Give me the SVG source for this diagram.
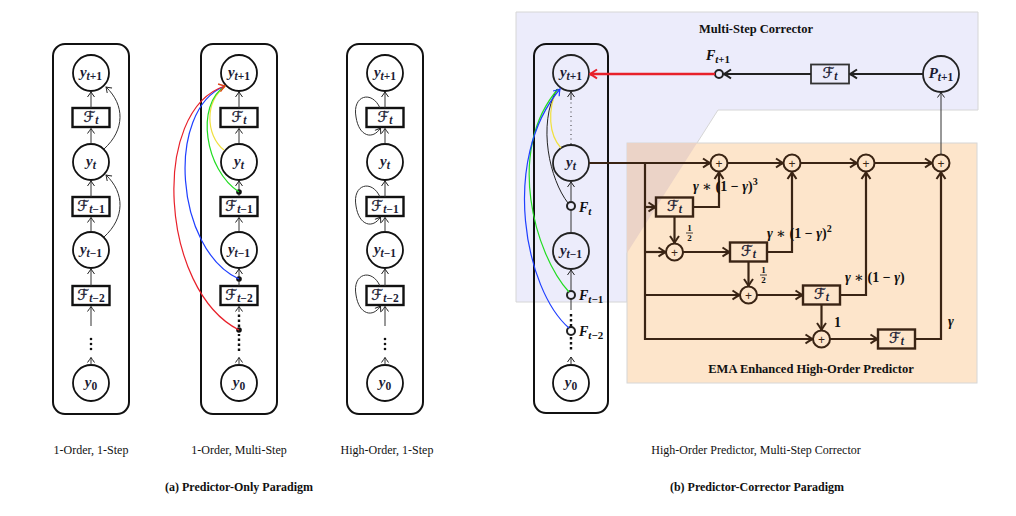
<svg xmlns="http://www.w3.org/2000/svg" width="1016" height="516" viewBox="0 0 1016 516">
<defs>
<style>
.col{fill:none;stroke:#111;stroke-width:2}
.bx{fill:#fff;stroke:#111;stroke-width:2.4}
.nd{fill:#fff;stroke:#111;stroke-width:1.8}
.ndb{fill:none;stroke:#222;stroke-width:1.8}
.sc{fill:none;stroke:#222;stroke-width:2}
.ar{fill:none;stroke:#333;stroke-width:1;marker-end:url(#a)}
.ln{fill:none;stroke:#333;stroke-width:1}
.ema{fill:none;stroke:#3a2414;stroke-width:2.2;marker-end:url(#ab)}
.pl{fill:none;stroke:#3a2414;stroke-width:2}
.ebx{fill:none;stroke:#3a2414;stroke-width:2.4}
.m{font-family:"Liberation Serif",serif;font-style:italic;font-weight:bold;font-size:15px;fill:#1b1b33;text-anchor:middle}
.s{font-size:11.5px}
.up{font-style:normal}
.cf{font-family:"DejaVu Sans","Noto Sans",sans-serif;font-style:normal;font-weight:normal;font-size:15px;stroke:#1b1b33;stroke-width:0.35}
.lb{font-family:"Liberation Serif","DejaVu Serif",serif;font-weight:bold;font-size:14px;fill:#111}
.fr{font-family:"Liberation Serif",serif;font-weight:bold;font-size:9px;fill:#111;text-anchor:middle}
.pt{font-family:"Liberation Sans",sans-serif;font-size:12px;fill:#3a2414;text-anchor:middle}
.cap{font-family:"Liberation Serif",serif;font-size:12px;fill:#111;text-anchor:middle}
.capb{font-family:"Liberation Serif",serif;font-size:12px;font-weight:bold;fill:#111;text-anchor:middle}
.ttl{font-family:"Liberation Serif",serif;font-size:12.5px;font-weight:bold;fill:#111;text-anchor:middle}
</style>
<marker id="a" viewBox="-7 -5 8 10" markerWidth="8" markerHeight="10" refX="0" refY="0" orient="auto" markerUnits="userSpaceOnUse"><path d="M-5,-3.5 Q-1.5,-1 0,0 Q-1.5,1 -5,3.5" fill="none" stroke="#222" stroke-width="1"/></marker>
<marker id="ab" viewBox="-9 -6 10 12" markerWidth="10" markerHeight="12" refX="0" refY="0" orient="auto" markerUnits="userSpaceOnUse"><path d="M-7,-4.5 Q-2,-1 0,0 Q-2,1 -7,4.5" fill="none" stroke="#3a2414" stroke-width="2"/></marker>
<marker id="ak" viewBox="-9 -6 10 12" markerWidth="10" markerHeight="12" refX="0" refY="0" orient="auto" markerUnits="userSpaceOnUse"><path d="M-7,-4.5 Q-2,-1 0,0 Q-2,1 -7,4.5" fill="none" stroke="#222" stroke-width="2"/></marker>
<marker id="ar" viewBox="-9 -6 10 12" markerWidth="10" markerHeight="12" refX="0" refY="0" orient="auto" markerUnits="userSpaceOnUse"><path d="M-7,-4.5 Q-2,-1 0,0 Q-2,1 -7,4.5" fill="none" stroke="#e8202a" stroke-width="2"/></marker>
<marker id="arr" viewBox="-8 -6 9 12" markerWidth="9" markerHeight="12" refX="0" refY="0" orient="auto" markerUnits="userSpaceOnUse"><path d="M-6,-4 Q-2,-1 0,0 Q-2,1 -6,4" fill="none" stroke="#d9461a" stroke-width="1.4"/></marker>
<marker id="abl" viewBox="-8 -6 9 12" markerWidth="9" markerHeight="12" refX="0" refY="0" orient="auto" markerUnits="userSpaceOnUse"><path d="M-6,-4 Q-2,-1 0,0 Q-2,1 -6,4" fill="none" stroke="#1f3fff" stroke-width="1.2"/></marker>
</defs>

<!-- backgrounds of panel b -->
<polygon points="516,12 978,12 978,110 718,110 627,253 627,302 516,302" fill="#ececfb" stroke="#d6d6d6" stroke-width="1"/>
<rect x="627" y="143" width="350" height="240" fill="#fde5cb" stroke="#d6d6d6" stroke-width="1"/>
<polygon points="627,143 697,143 627,253" fill="#ebd3c7"/>
<text class="ttl" x="756" y="33">Multi-Step Corrector</text>
<text class="ttl" x="811" y="373">EMA Enhanced High-Order Predictor</text>

<!-- ===== Panel (a) column 1 ===== -->
<g id="col1"><rect class="col" x="53" y="44" width="76" height="370" rx="12"/></g>
<g id="c1_yt1"><circle class="nd" cx="91" cy="73" r="18"/><text class="m" x="91" y="77">y<tspan class="s" dy="3">t<tspan class="up">+1</tspan></tspan></text></g>
<g id="c1_Ft"><rect class="bx" x="72.5" y="108" width="37" height="19"/><text class="m" x="91" y="122"><tspan class="cf">ℱ</tspan><tspan class="s" dy="2">t</tspan></text></g>
<g id="c1_yt"><circle class="nd" cx="91" cy="162" r="18"/><text class="m" x="91" y="166">y<tspan class="s" dy="3">t</tspan></text></g>
<g id="c1_Ft1"><rect class="bx" x="72.5" y="197" width="37" height="19"/><text class="m" x="91" y="211"><tspan class="cf">ℱ</tspan><tspan class="s" dy="2">t<tspan class="up">−1</tspan></tspan></text></g>
<g id="c1_yt_1"><circle class="nd" cx="91" cy="250" r="18"/><text class="m" x="91" y="254">y<tspan class="s" dy="3">t<tspan class="up">−1</tspan></tspan></text></g>
<g id="c1_Ft2"><rect class="bx" x="72.5" y="286" width="37" height="19"/><text class="m" x="91" y="300"><tspan class="cf">ℱ</tspan><tspan class="s" dy="2">t<tspan class="up">−2</tspan></tspan></text></g>
<g id="c1_dots"><circle cx="91" cy="339" r="1.3" fill="#111"/><circle cx="91" cy="344" r="1.3" fill="#111"/><circle cx="91" cy="349" r="1.3" fill="#111"/></g>
<g id="c1_y0"><circle class="nd" cx="91" cy="383" r="18"/><text class="m" x="91" y="387">y<tspan class="s up" dy="3">0</tspan></text></g>

<!-- ===== Panel (a) column 2 ===== -->
<g id="col2"><rect class="col" x="201" y="44" width="76" height="370" rx="12"/></g>
<g id="c2_yt1"><circle class="nd" cx="239" cy="73" r="18"/><text class="m" x="239" y="77">y<tspan class="s" dy="3">t<tspan class="up">+1</tspan></tspan></text></g>
<g id="c2_Ft"><rect class="bx" x="220.5" y="108" width="37" height="19"/><text class="m" x="239" y="122"><tspan class="cf">ℱ</tspan><tspan class="s" dy="2">t</tspan></text></g>
<g id="c2_yt"><circle class="nd" cx="239" cy="162" r="18"/><text class="m" x="239" y="166">y<tspan class="s" dy="3">t</tspan></text></g>
<g id="c2_Ft1"><rect class="bx" x="220.5" y="197" width="37" height="19"/><text class="m" x="239" y="211"><tspan class="cf">ℱ</tspan><tspan class="s" dy="2">t<tspan class="up">−1</tspan></tspan></text></g>
<g id="c2_yt_1"><circle class="nd" cx="239" cy="250" r="18"/><text class="m" x="239" y="254">y<tspan class="s" dy="3">t<tspan class="up">−1</tspan></tspan></text></g>
<g id="c2_Ft2"><rect class="bx" x="220.5" y="286" width="37" height="19"/><text class="m" x="239" y="300"><tspan class="cf">ℱ</tspan><tspan class="s" dy="2">t<tspan class="up">−2</tspan></tspan></text></g>
<g id="c2_y0"><circle class="nd" cx="239" cy="383" r="18"/><text class="m" x="239" y="387">y<tspan class="s up" dy="3">0</tspan></text></g>

<!-- ===== Panel (a) column 3 ===== -->
<g id="col3"><rect class="col" x="347" y="44" width="76" height="370" rx="12"/></g>
<g id="c3_yt1"><circle class="nd" cx="385" cy="73" r="18"/><text class="m" x="385" y="77">y<tspan class="s" dy="3">t<tspan class="up">+1</tspan></tspan></text></g>
<g id="c3_Ft"><rect class="bx" x="366.5" y="108" width="37" height="19"/><text class="m" x="385" y="122"><tspan class="cf">ℱ</tspan><tspan class="s" dy="2">t</tspan></text></g>
<g id="c3_yt"><circle class="nd" cx="385" cy="162" r="18"/><text class="m" x="385" y="166">y<tspan class="s" dy="3">t</tspan></text></g>
<g id="c3_Ft1"><rect class="bx" x="366.5" y="197" width="37" height="19"/><text class="m" x="385" y="211"><tspan class="cf">ℱ</tspan><tspan class="s" dy="2">t<tspan class="up">−1</tspan></tspan></text></g>
<g id="c3_yt_1"><circle class="nd" cx="385" cy="250" r="18"/><text class="m" x="385" y="254">y<tspan class="s" dy="3">t<tspan class="up">−1</tspan></tspan></text></g>
<g id="c3_Ft2"><rect class="bx" x="366.5" y="286" width="37" height="19"/><text class="m" x="385" y="300"><tspan class="cf">ℱ</tspan><tspan class="s" dy="2">t<tspan class="up">−2</tspan></tspan></text></g>
<g id="c3_dots"><circle cx="385" cy="339" r="1.3" fill="#111"/><circle cx="385" cy="344" r="1.3" fill="#111"/><circle cx="385" cy="349" r="1.3" fill="#111"/></g>
<g id="c3_y0"><circle class="nd" cx="385" cy="383" r="18"/><text class="m" x="385" y="387">y<tspan class="s up" dy="3">0</tspan></text></g>

<!-- ===== Panel (b) column ===== -->
<g id="colb"><rect class="col" x="534" y="44" width="74" height="369" rx="12"/></g>
<g id="b_yt1"><circle class="ndb" cx="571" cy="73" r="18"/><text class="m" x="571" y="77">y<tspan class="s" dy="3">t<tspan class="up">+1</tspan></tspan></text></g>
<g id="b_yt"><circle class="ndb" cx="571" cy="163" r="18"/><text class="m" x="571" y="167">y<tspan class="s" dy="3">t</tspan></text></g>
<g id="b_Ft"><circle class="sc" cx="571" cy="206" r="4"/><text class="lb" x="579" y="212" font-style="italic" font-size="15">F<tspan font-size="11" dy="3">t</tspan></text></g>
<g id="b_yt_1"><circle class="ndb" cx="571" cy="251" r="18"/><text class="m" x="571" y="255">y<tspan class="s" dy="3">t<tspan class="up">−1</tspan></tspan></text></g>
<g id="b_Ft1"><circle class="sc" cx="571" cy="295" r="4"/><text class="lb" x="579" y="300" font-style="italic" font-size="15">F<tspan font-size="11" dy="3">t<tspan font-style="normal">−1</tspan></tspan></text></g>
<g id="b_Ft2"><circle class="sc" cx="571" cy="331" r="4"/><text class="lb" x="579" y="336" font-style="italic" font-size="15">F<tspan font-size="11" dy="3">t<tspan font-style="normal">−2</tspan></tspan></text></g>
<g id="b_y0"><circle class="nd" cx="571" cy="383" r="18"/><text class="m" x="571" y="387">y<tspan class="s up" dy="3">0</tspan></text></g>

<!-- corrector nodes -->
<g id="b_Fp1"><circle class="sc" cx="719" cy="74" r="4"/><text class="lb" x="718" y="60" font-style="italic" font-size="15" text-anchor="middle">F<tspan font-size="11" dy="3">t<tspan font-style="normal">+1</tspan></tspan></text></g>
<g id="b_cF"><rect x="811" y="64.5" width="38" height="19" fill="#ececfb" stroke="#333" stroke-width="1.8"/><text class="m" x="830" y="78"><tspan class="cf">ℱ</tspan><tspan class="s" dy="2">t</tspan></text></g>
<g id="b_P"><circle class="ndb" cx="941" cy="74" r="18"/><text class="m" x="941" y="78">P<tspan class="s" dy="3">t<tspan class="up">+1</tspan></tspan></text></g>

<!-- EMA nodes -->
<g id="p1"><circle class="pl" cx="719" cy="163" r="8.5"/><text class="pt" x="719" y="167.5">+</text></g>
<g id="p2"><circle class="pl" cx="792" cy="163" r="8.5"/><text class="pt" x="792" y="167.5">+</text></g>
<g id="p3"><circle class="pl" cx="866" cy="163" r="8.5"/><text class="pt" x="866" y="167.5">+</text></g>
<g id="p4"><circle class="pl" cx="941" cy="163" r="8.5"/><text class="pt" x="941" y="167.5">+</text></g>
<g id="p5"><circle class="pl" cx="674.5" cy="252" r="8.5"/><text class="pt" x="674.5" y="256.5">+</text></g>
<g id="p6"><circle class="pl" cx="748.5" cy="295" r="8.5"/><text class="pt" x="748.5" y="299.5">+</text></g>
<g id="p7"><circle class="pl" cx="821.5" cy="339" r="8.5"/><text class="pt" x="821.5" y="343.5">+</text></g>
<g id="e1"><rect class="ebx" x="656" y="197.5" width="37" height="19"/><text class="m" x="674.5" y="211"><tspan class="cf">ℱ</tspan><tspan class="s" dy="2">t</tspan></text></g>
<g id="e2"><rect class="ebx" x="730" y="242.5" width="37" height="19"/><text class="m" x="748.5" y="256"><tspan class="cf">ℱ</tspan><tspan class="s" dy="2">t</tspan></text></g>
<g id="e3"><rect class="ebx" x="803" y="285.5" width="37" height="19"/><text class="m" x="821.5" y="299"><tspan class="cf">ℱ</tspan><tspan class="s" dy="2">t</tspan></text></g>
<g id="e4"><rect class="ebx" x="878" y="329.5" width="37" height="19"/><text class="m" x="896.5" y="343"><tspan class="cf">ℱ</tspan><tspan class="s" dy="2">t</tspan></text></g>

<!-- ===== connectors ===== -->
<g id="connectors">
<path class="ar" d="M91,365 L91,357.5"/>
<path class="ar" d="M91,326 L91,306.5"/>
<path class="ar" d="M91,286 L91,269"/>
<path class="ar" d="M91,232 L91,217.5"/>
<path class="ar" d="M91,197 L91,181"/>
<path class="ar" d="M91,144 L91,128.5"/>
<path class="ar" d="M91,108 L91,92"/>
<path class="ar" d="M104,149 C125,130 125,105 106,87"/>
<path class="ar" d="M104,237 C125,218 125,193 106,175"/>
<path class="ar" d="M239,365 L239,357.5"/>
<path d="M239,351 L239,334" stroke="#111" stroke-width="2.4" stroke-dasharray="2.4 2.6" fill="none"/>
<path d="M239,327 L239,312" stroke="#111" stroke-width="2.4" stroke-dasharray="2.4 2.6" fill="none"/>
<path class="ar" d="M239,312 L239,306.5"/>
<path class="ar" d="M239,286 L239,269"/>
<path class="ar" d="M239,232 L239,217.5"/>
<path class="ar" d="M239,197 L239,181"/>
<path class="ar" d="M239,144 L239,128.5"/>
<path class="ar" d="M239,108 L239,92"/>
<circle cx="239" cy="330" r="2.8" fill="#111"/>
<circle cx="239" cy="279" r="2.8" fill="#111"/>
<circle cx="239" cy="192" r="2.8" fill="#111"/>
<path d="M224,150 C205,135 205,100 225,87" fill="none" stroke="#f0e040" stroke-width="1.2"/>
<path d="M239,192 C205,170 195,105 225,86" fill="none" stroke="#22dd22" stroke-width="1.2"/>
<path d="M239,279 C175,250 165,110 225,86" fill="none" stroke="#1f3fff" stroke-width="1.2"/>
<path d="M239,330 C160,290 150,110 225,86" fill="none" stroke="#e8202a" stroke-width="1.2" marker-end="url(#arr)"/>
<path class="ar" d="M385,365 L385,357.5"/>
<path class="ar" d="M385,326 L385,306.5"/>
<path class="ar" d="M385,286 L385,269"/>
<path class="ar" d="M385,232 L385,217.5"/>
<path class="ar" d="M385,197 L385,181"/>
<path class="ar" d="M385,144 L385,128.5"/>
<path class="ar" d="M385,108 L385,92"/>
<path class="ar" d="M380,108 C372,90 352,95 356,117 C359,137 373,140 380.5,128"/>
<path class="ar" d="M380,197 C372,179 352,184 356,206 C359,226 373,229 380.5,217"/>
<path class="ar" d="M380,286 C372,268 352,273 356,295 C359,315 373,318 380.5,306"/>
<path d="M571,144 L571,100" fill="none" stroke="#333" stroke-width="1" stroke-dasharray="1 3.5"/>
<path class="ar" d="M571,100 L571,92"/>
<path class="ar" d="M571,202 L571,182"/>
<path class="ln" d="M571,233 L571,210"/>
<path class="ar" d="M571,291 L571,270"/>
<path class="ln" d="M571,299 L571,310"/>
<path d="M571,314 L571,327" stroke="#111" stroke-width="2.4" stroke-dasharray="2.4 2.6" fill="none"/>
<path d="M571,337 L571,351" stroke="#111" stroke-width="2.4" stroke-dasharray="2.4 2.6" fill="none"/>
<path class="ar" d="M571,365 L571,357"/>
<path d="M561,148 C549,135 547,110 557,90" fill="none" stroke="#f0e040" stroke-width="1.2"/>
<path d="M568,203 C550,180 537,125 557,89" fill="none" stroke="#222" stroke-width="1"/>
<path d="M569,292 C535,255 505,150 558,89" fill="none" stroke="#22dd22" stroke-width="1.2"/>
<path d="M569,328 C525,290 500,160 560,89" fill="none" stroke="#1f3fff" stroke-width="1.2" marker-end="url(#abl)"/>
<path d="M715,74 L590,74" fill="none" stroke="#e8202a" stroke-width="2.4" marker-end="url(#ar)"/>
<path d="M811,74 L724,74" fill="none" stroke="#222" stroke-width="2" marker-end="url(#ak)"/>
<path d="M923,74 L850,74" fill="none" stroke="#222" stroke-width="2" marker-end="url(#ak)"/>
<path class="ar" d="M941,154.5 L941,92.5" stroke="#666"/>
<path class="ema" d="M589,163 L710,163"/>
<path class="ema" d="M645,163 L645,339 L812.5,339"/>
<path class="ema" d="M645,207 L655.5,207"/>
<path class="ema" d="M645,252 L665.5,252"/>
<path class="ema" d="M645,295 L739.5,295"/>
<path class="ema" d="M727.5,163 L783,163"/>
<path class="ema" d="M800.5,163 L857,163"/>
<path class="ema" d="M874.5,163 L932,163"/>
<path class="ema" d="M693,207 L719,207 L719,172"/>
<path class="ema" d="M674.5,216.5 L674.5,243"/>
<path class="ema" d="M683,252 L729.5,252"/>
<path class="ema" d="M767,252 L792,252 L792,172"/>
<path class="ema" d="M748.5,261.5 L748.5,286"/>
<path class="ema" d="M757,295 L802.5,295"/>
<path class="ema" d="M840,295 L866,295 L866,172"/>
<path class="ema" d="M821.5,304.5 L821.5,330"/>
<path class="ema" d="M830,339 L877.5,339"/>
<path class="ema" d="M915,339 L941,339 L941,172"/>
</g>

<!-- EMA labels -->
<text class="lb" x="693" y="191" font-size="14.5"><tspan font-style="italic">γ</tspan> ∗ (1 − <tspan font-style="italic">γ</tspan>)<tspan font-size="10" dy="-6">3</tspan></text>
<text class="lb" x="767" y="238" font-size="14.5"><tspan font-style="italic">γ</tspan> ∗ (1 − <tspan font-style="italic">γ</tspan>)<tspan font-size="10" dy="-6">2</tspan></text>
<text class="lb" x="845" y="282" font-size="14.5"><tspan font-style="italic">γ</tspan> ∗ (1 − <tspan font-style="italic">γ</tspan>)</text>
<text class="lb" x="834" y="327">1</text>
<text class="lb" x="948" y="326" font-style="italic">γ</text>
<text class="fr" x="689.5" y="231">1</text><path d="M686,233 L693,233" stroke="#111" stroke-width="0.8"/><text class="fr" x="689.5" y="240.5">2</text>
<text class="fr" x="763.5" y="273">1</text><path d="M760,275 L767,275" stroke="#111" stroke-width="0.8"/><text class="fr" x="763.5" y="282.5">2</text>

<!-- captions -->
<text class="cap" x="91" y="454">1-Order, 1-Step</text>
<text class="cap" x="239" y="454">1-Order, Multi-Step</text>
<text class="cap" x="387" y="454">High-Order, 1-Step</text>
<text class="cap" x="756" y="454">High-Order Predictor, Multi-Step Corrector</text>
<text class="capb" x="239" y="491">(a) Predictor-Only Paradigm</text>
<text class="capb" x="757" y="491">(b) Predictor-Corrector Paradigm</text>
</svg>
